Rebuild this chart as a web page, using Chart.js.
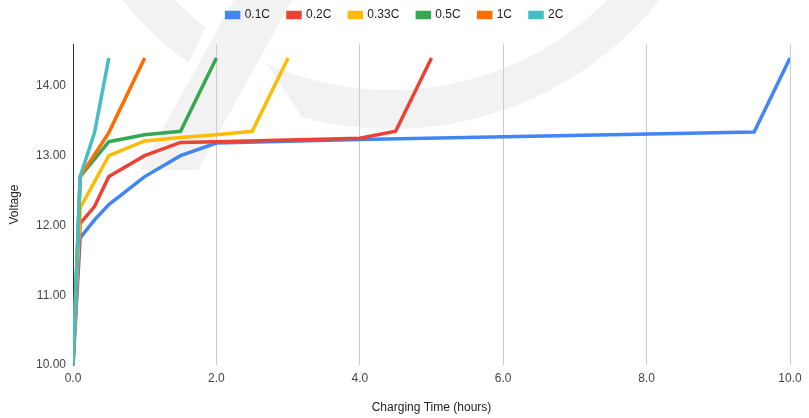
<!DOCTYPE html>
<html>
<head>
<meta charset="utf-8">
<script src="https://cdn.jsdelivr.net/npm/chart.js@4.4.1/dist/chart.umd.min.js"></script>
<style>
  html, body { margin: 0; padding: 0; background: #fff; }
  #wrap { width: 809px; height: 418px; }
</style>
</head>
<body>
<div id="wrap"><canvas id="chargeChart" width="809" height="418"></canvas></div>
<script>
// charging curves, time in hours / voltage
const seriesNames = ['0.1C', '0.2C', '0.33C', '0.5C', '1C', '2C'];
const seriesColors = ['#4285f4', '#ea4335', '#fbbc04', '#34a853', '#ff6d01', '#46bdc6'];

const time01 = [0, 0.1, 0.3, 0.5, 1, 1.5, 2, 4, 9.5, 10];
const volt01 = [10, 11.82, 12.08, 12.3, 12.7, 13.0, 13.18, 13.23, 13.34, 14.4];

const time02 = [0, 0.1, 0.3, 0.5, 1, 1.5, 2, 4, 4.5, 5];
const volt02 = [10, 12.03, 12.27, 12.7, 13.0, 13.19, 13.2, 13.25, 13.35, 14.4];

const time033 = [0, 0.1, 0.5, 1, 1.5, 2, 2.5, 3];
const volt033 = [10, 12.25, 13.0, 13.21, 13.26, 13.3, 13.35, 14.4];

const time05 = [0, 0.1, 0.5, 1, 1.5, 2];
const volt05 = [10, 12.7, 13.2, 13.3, 13.35, 14.4];

const time1 = [0, 0.1, 0.5, 1];
const volt1 = [10, 12.7, 13.33, 14.4];

const time2 = [0, 0.1, 0.3, 0.5];
const volt2 = [10, 12.7, 13.33, 14.4];

const xTicks = [0, 2, 4, 6, 8, 10];
const yTicks = [10, 11, 12, 13, 14];

const times = [time01, time02, time033, time05, time1, time2];
const volts = [volt01, volt02, volt033, volt05, volt1, volt2];

const FONT = 'Arial, "Liberation Sans", sans-serif';

// faint logo watermark behind the plot
const watermark = {
    id: 'watermark',
    beforeDraw(chart) {
        const c = chart.ctx;
        const cx = 391, cy = -215, R = 344, r = 305;
        const d = Math.PI / 180;
        c.save();
        c.fillStyle = '#f2f2f2';
        c.beginPath();
        c.arc(cx, cy, R, 105 * d, 30 * d, true);
        c.arc(cx, cy, r, 30 * d, 114 * d, false);
        c.closePath();
        c.fill();
        c.beginPath();
        c.arc(cx, cy, R, 126 * d, 155 * d, false);
        c.arc(cx, cy, r, 155 * d, 127.5 * d, true);
        c.closePath();
        c.fill();
        c.beginPath();
        c.moveTo(234, 0);
        c.lineTo(292, 0);
        c.lineTo(198, 170);
        c.lineTo(140, 170);
        c.closePath();
        c.fill();
        c.restore();
    }
};

const legendFit = {
    id: 'legendFit',
    beforeInit(chart) {
        const fit = chart.legend.fit;
        chart.legend.fit = function () {
            fit.bind(chart.legend)();
            this.height = 53;
        };
    }
};

const ctx = document.getElementById('chargeChart').getContext('2d');
const chargeChart = new Chart(ctx, {
    type: 'line',
    data: {
        datasets: seriesNames.map((name, i) => ({
            label: name,
            data: times[i].map((t, j) => ({ x: t, y: volts[i][j] })),
            borderColor: seriesColors[i],
            backgroundColor: seriesColors[i],
            borderWidth: 3.5,
            pointRadius: 0,
            tension: 0,
            fill: false,
            order: seriesNames.length - i // later series on top
        }))
    },
    options: {
        responsive: false,
        animation: false,
        layout: { padding: { top: -9, left: 0, right: 19, bottom: 0 } },
        scales: {
            x: {
                type: 'linear',
                min: 0,
                max: 10,
                afterBuildTicks: s => { s.ticks = xTicks.map(v => ({ value: v })); },
                afterFit: s => { s.height = 53; },
                grid: { color: '#cccccc', lineWidth: 1, drawTicks: false },
                border: { display: false },
                ticks: {
                    padding: 6,
                    color: '#444',
                    font: { family: FONT, size: 12 },
                    callback: v => Number(v).toFixed(1)
                },
                title: {
                    display: true,
                    text: 'Charging Time (hours)',
                    color: '#222',
                    font: { family: FONT, size: 12 },
                    padding: { top: 0, bottom: 3 }
                }
            },
            y: {
                min: 10,
                max: 14.6,
                afterBuildTicks: s => { s.ticks = yTicks.map(v => ({ value: v })); },
                afterFit: s => { s.width = 73; },
                grid: { display: false, drawTicks: false },
                border: { display: true, color: '#333333', width: 1 },
                ticks: {
                    padding: 7,
                    color: '#444',
                    font: { family: FONT, size: 12 },
                    callback: v => Number(v).toFixed(2)
                },
                title: {
                    display: true,
                    text: 'Voltage',
                    color: '#222',
                    font: { family: FONT, size: 12 },
                    padding: { top: 7, bottom: 0 }
                }
            }
        },
        plugins: {
            legend: {
                position: 'top',
                labels: {
                    boxWidth: 12,
                    boxHeight: 5,
                    padding: 18,
                    color: '#222',
                    font: { family: FONT, size: 12 },
                    sort: (a, b) => a.datasetIndex - b.datasetIndex
                }
            },
            tooltip: { enabled: false }
        }
    },
    plugins: [watermark, legendFit]
});
</script>
</body>
</html>
